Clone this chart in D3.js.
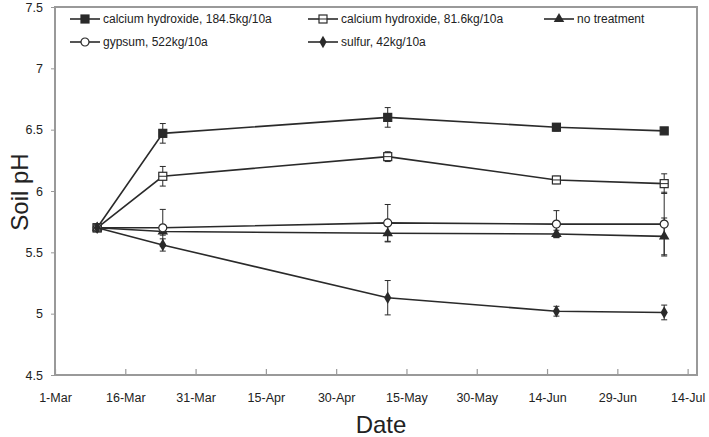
<!DOCTYPE html>
<html>
<head>
<meta charset="utf-8">
<script src="https://cdn.jsdelivr.net/npm/d3@7"></script>
<style>
  body { margin: 0; background: #fff; }
  text { font-family: "Liberation Sans", Arial, sans-serif; fill: #222; }
</style>
</head>
<body>
<div id="chart"></div>
<script>

// Sampling dates (year is arbitrary, only the date axis uses it).
var dates = ['2013-03-10', '2013-03-24', '2013-05-11', '2013-06-16', '2013-07-09'];

var seriesNames = [
  'calcium hydroxide, 184.5kg/10a',
  'calcium hydroxide, 81.6kg/10a',
  'no treatment',
  'gypsum, 522kg/10a',
  'sulfur, 42kg/10a'
];

// Mean soil pH per date.
var caOH184 = [5.70, 6.47, 6.60, 6.52, 6.49];
var caOH81 = [5.70, 6.12, 6.28, 6.09, 6.06];
var noTreat = [5.70, 5.67, 5.655, 5.65, 5.63];
var gypsum = [5.70, 5.70, 5.74, 5.73, 5.73];
var sulfur = [5.70, 5.56, 5.13, 5.02, 5.01];

// Error bar half-widths.
var caOH184Err = [0, 0.08, 0.08, 0.03, 0.02];
var caOH81Err = [0, 0.08, 0.04, 0.03, 0.08];
var noTreatErr = [0, 0.03, 0.07, 0.03, 0.15];
var gypsumErr = [0, 0.15, 0.15, 0.11, 0.26];
var sulfurErr = [0, 0.05, 0.14, 0.04, 0.06];

var yTicks = [4.5, 5, 5.5, 6, 6.5, 7, 7.5];
var xTickLabels = ['1-Mar', '16-Mar', '31-Mar', '15-Apr', '30-Apr', '15-May', '30-May', '14-Jun', '29-Jun', '14-Jul'];

var width = 709,
  height = 437;

var margin = {
  top: 7,
  right: 12,
  bottom: 62,
  left: 55
};

var svg = d3.select('#chart')
  .append('svg')
  .attr('width', width)
  .attr('height', height);

var w = width - margin.left - margin.right,
  h = height - margin.top - margin.bottom;

var g = svg.append('g')
  .attr('transform', 'translate(' + margin.left + ',' + margin.top + ')');

var parse = d3.timeParse('%Y-%m-%d');
var start = parse('2013-03-01');
var xTickDates = xTickLabels.map(function(d, i) {
  return d3.timeDay.offset(start, i * 15);
});

// Scales. Axis runs a little past the last tick, like the original.
var xScale = d3.scaleTime()
  .domain([start, d3.timeDay.offset(start, 137)])
  .range([0, w]);

var yScale = d3.scaleLinear()
  .domain([4.5, 7.5])
  .range([h, 0]);

// Plot frame.
g.append('rect')
  .attr('width', w)
  .attr('height', h)
  .attr('fill', 'none')
  .attr('stroke', '#999')
  .attr('stroke-width', 2);

// X axis: ticks point up into the plot.
var xAxis = g.append('g')
  .attr('transform', 'translate(0,' + h + ')')
  .call(d3.axisBottom(xScale)
    .tickValues(xTickDates)
    .tickFormat(function(d, i) { return xTickLabels[i]; })
    .tickSize(-6)
    .tickPadding(18));
xAxis.select('.domain').remove();
xAxis.selectAll('line').attr('stroke', '#999').attr('stroke-width', 1.2);
xAxis.selectAll('text')
  .style('font-size', '12.5px')
  .style('font-family', '"Liberation Sans Narrow", "Liberation Sans", sans-serif')
  .attr('fill', '#333');

// Y axis.
var yAxis = g.append('g')
  .call(d3.axisLeft(yScale)
    .tickValues(yTicks)
    .tickFormat(d3.format('~g'))
    .tickSize(4)
    .tickPadding(8));
yAxis.select('.domain').remove();
yAxis.selectAll('line').attr('stroke', '#999');
yAxis.selectAll('text')
  .style('font-size', '12.5px')
  .style('font-family', '"Liberation Sans Narrow", "Liberation Sans", sans-serif')
  .attr('fill', '#333');

// Axis titles.
svg.append('text')
  .attr('x', 381)
  .attr('y', 433)
  .attr('text-anchor', 'middle')
  .style('font-size', '24px')
  .text('Date');

svg.append('text')
  .attr('transform', 'translate(28,192) rotate(-90)')
  .attr('text-anchor', 'middle')
  .style('font-size', '24px')
  .text('Soil pH');

// Build series table from the arrays.
var values = [caOH184, caOH81, noTreat, gypsum, sulfur];
var errors = [caOH184Err, caOH81Err, noTreatErr, gypsumErr, sulfurErr];
var markers = ['squareFilled', 'squareOpen', 'triangle', 'circleOpen', 'diamond'];

var series = seriesNames.map(function(name, i) {
  return {
    name: name,
    marker: markers[i],
    points: dates.map(function(d, j) {
      return { date: parse(d), v: values[i][j], e: errors[i][j] };
    })
  };
});

var lineColor = '#2a2a2a';

function drawMarker(sel, type) {
  if (type === 'squareFilled' || type === 'squareOpen') {
    sel.append('rect')
      .attr('x', -4).attr('y', -4)
      .attr('width', 8).attr('height', 8)
      .attr('fill', type === 'squareFilled' ? lineColor : '#fff')
      .attr('stroke', lineColor)
      .attr('stroke-width', 1.2);
    if (type === 'squareOpen') {
      sel.append('line')
        .attr('x1', -4).attr('x2', 4)
        .attr('stroke', lineColor).attr('stroke-width', 1);
    }
  } else if (type === 'triangle') {
    sel.append('path')
      .attr('d', d3.symbol().type(d3.symbolTriangle).size(48))
      .attr('fill', lineColor);
  } else if (type === 'circleOpen') {
    sel.append('circle')
      .attr('r', 4)
      .attr('fill', '#fff')
      .attr('stroke', lineColor)
      .attr('stroke-width', 1.2);
  } else {
    sel.append('path')
      .attr('d', d3.symbol().type(d3.symbolDiamond).size(45))
      .attr('fill', lineColor);
  }
}

var line = d3.line()
  .x(function(d) { return xScale(d.date); })
  .y(function(d) { return yScale(d.v); });

var groups = g.selectAll('.series')
  .data(series)
  .enter()
  .append('g')
  .attr('class', 'series');

groups.append('path')
  .attr('d', function(d) { return line(d.points); })
  .attr('fill', 'none')
  .attr('stroke', lineColor)
  .attr('stroke-width', 1.6);

// Error bars.
groups.each(function(s) {
  var eb = d3.select(this).selectAll('.err')
    .data(s.points.filter(function(p) { return p.e > 0; }))
    .enter()
    .append('g')
    .attr('class', 'err')
    .attr('stroke', lineColor)
    .attr('stroke-width', 1);
  eb.append('line')
    .attr('x1', function(p) { return xScale(p.date); })
    .attr('x2', function(p) { return xScale(p.date); })
    .attr('y1', function(p) { return yScale(p.v - p.e); })
    .attr('y2', function(p) { return yScale(p.v + p.e); });
  [-1, 1].forEach(function(sign) {
    eb.append('line')
      .attr('x1', function(p) { return xScale(p.date) - 3; })
      .attr('x2', function(p) { return xScale(p.date) + 3; })
      .attr('y1', function(p) { return yScale(p.v + sign * p.e); })
      .attr('y2', function(p) { return yScale(p.v + sign * p.e); });
  });
});

// Markers.
groups.each(function(s) {
  d3.select(this).selectAll('.mk')
    .data(s.points)
    .enter()
    .append('g')
    .attr('class', 'mk')
    .attr('transform', function(p) {
      return 'translate(' + xScale(p.date) + ',' + yScale(p.v) + ')';
    })
    .each(function() { drawMarker(d3.select(this), s.marker); });
});

// Legend, laid out like the original (3 in first row, 2 in second).
var legendPos = [[70, 19], [308, 19], [544, 19], [70, 42], [308, 42]];

var legend = svg.selectAll('.legend')
  .data(series)
  .enter()
  .append('g')
  .attr('class', 'legend')
  .attr('transform', function(d, i) {
    return 'translate(' + legendPos[i][0] + ',' + legendPos[i][1] + ')';
  });

legend.append('line')
  .attr('x1', 0).attr('x2', 30)
  .attr('stroke', lineColor)
  .attr('stroke-width', 1.6);

legend.append('g')
  .attr('transform', 'translate(15,0)')
  .each(function(d) { drawMarker(d3.select(this), d.marker); });

legend.append('text')
  .attr('x', 33)
  .attr('dy', '0.35em')
  .style('font-size', '12px')
  .text(function(d) { return d.name; });

</script>
</body>
</html>
